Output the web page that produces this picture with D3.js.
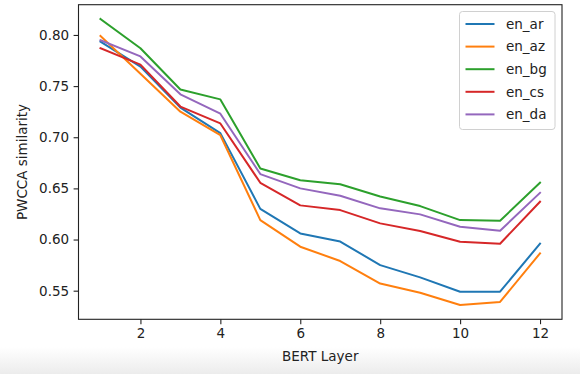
<!DOCTYPE html>
<html>
<head>
<meta charset="utf-8">
<script src="https://cdn.jsdelivr.net/npm/d3@7"></script>
<style>
  body { margin: 0; background: #fff; }
  svg { display: block; font-family: "DejaVu Sans", sans-serif; }
</style>
</head>
<body>
<div class="graph"></div>
<script>
// BERT layers 1..12
const layers = [1, 2, 3, 4, 5, 6, 7, 8, 9, 10, 11, 12];

const en_ar = [0.7935, 0.769, 0.729, 0.704, 0.630, 0.606, 0.598, 0.575, 0.563, 0.549, 0.549, 0.596];
const en_az = [0.799, 0.762, 0.725, 0.702, 0.619, 0.593, 0.579, 0.557, 0.548, 0.536, 0.539, 0.5865];
const en_bg = [0.8156, 0.787, 0.7467, 0.737, 0.6695, 0.658, 0.654, 0.642, 0.6327, 0.619, 0.6184, 0.6555];
const en_cs = [0.787, 0.771, 0.730, 0.7135, 0.6555, 0.6334, 0.6288, 0.6158, 0.6083, 0.5978, 0.5959, 0.637];
const en_da = [0.7948, 0.779, 0.742, 0.723, 0.664, 0.650, 0.6428, 0.6305, 0.6246, 0.6125, 0.6086, 0.6457];

const seriesNames = ["en_ar", "en_az", "en_bg", "en_cs", "en_da"];
const seriesValues = [en_ar, en_az, en_bg, en_cs, en_da];
const colors = ["#1f77b4", "#ff7f0e", "#2ca02c", "#d62728", "#9467bd"];

const xTicks = [2, 4, 6, 8, 10, 12];
const yTicks = [0.55, 0.60, 0.65, 0.70, 0.75, 0.80];

const width = 580, height = 374;
const plotLeft = 78.5, plotRight = 562, plotTop = 4.7, plotBottom = 319.3;

let svg = d3.select(".graph").append("svg")
  .attr("width", width)
  .attr("height", height);

// light grey strip at the bottom of the screenshot
let grad = svg.append("defs").append("linearGradient")
  .attr("id", "fade").attr("x1", 0).attr("x2", 0).attr("y1", 0).attr("y2", 1);
grad.append("stop").attr("offset", "0%").attr("stop-color", "#ffffff");
grad.append("stop").attr("offset", "100%").attr("stop-color", "#ececec");
svg.append("rect").attr("x", 0).attr("y", 347).attr("width", width).attr("height", 27)
  .attr("fill", "url(#fade)");

// matplotlib style: 5% margins on data range
let allVals = seriesValues.flat();
let ymin = d3.min(allVals), ymax = d3.max(allVals);
let ypad = (ymax - ymin) * 0.05;
let x = d3.scaleLinear().domain([0.45, 12.55]).range([plotLeft, plotRight]);
let y = d3.scaleLinear().domain([ymin - ypad, ymax + ypad]).range([plotBottom, plotTop]);

let xAxis = svg.append("g")
  .attr("transform", "translate(0," + plotBottom + ")")
  .call(d3.axisBottom(x).tickValues(xTicks).tickSize(4.9).tickPadding(4.5).tickFormat(d3.format("d")));

let yAxis = svg.append("g")
  .attr("transform", "translate(" + plotLeft + ",0)")
  .call(d3.axisLeft(y).tickValues(yTicks).tickSize(4.9).tickPadding(4.5).tickFormat(d3.format(".2f")));

[xAxis, yAxis].forEach(function(a){
  a.select(".domain").remove();
  a.selectAll(".tick line").attr("stroke", "#222").attr("stroke-width", 1.1);
  a.selectAll(".tick text").attr("fill", "#222").style("font-size", "13.5px").style("font-family", "DejaVu Sans");
});

// lines
let line = d3.line()
  .x(function(d, i){ return x(layers[i]); })
  .y(function(d){ return y(d); });

svg.selectAll(".series")
  .data(seriesValues)
  .enter().append("path")
  .attr("class", "series")
  .attr("d", line)
  .attr("fill", "none")
  .attr("stroke", function(d, i){ return colors[i]; })
  .attr("stroke-width", 2)
  .attr("stroke-linejoin", "round")
  .attr("stroke-linecap", "square");

// frame
svg.append("rect")
  .attr("x", plotLeft).attr("y", plotTop)
  .attr("width", plotRight - plotLeft).attr("height", plotBottom - plotTop)
  .attr("fill", "none").attr("stroke", "#222").attr("stroke-width", 1.1);

// axis labels
svg.append("text")
  .attr("x", (plotLeft + plotRight) / 2).attr("y", 361)
  .attr("text-anchor", "middle")
  .style("font-size", "13.5px").attr("fill", "#222")
  .text("BERT Layer");

svg.append("text")
  .attr("transform", "translate(27," + ((plotTop + plotBottom) / 2) + ") rotate(-90)")
  .attr("text-anchor", "middle")
  .style("font-size", "13.5px").attr("fill", "#222")
  .text("PWCCA similarity");

// legend
let legend = svg.append("g").attr("transform", "translate(459.5,11.5)");
legend.append("rect")
  .attr("width", 95.5).attr("height", 118)
  .attr("rx", 3)
  .attr("fill", "#fff").attr("fill-opacity", 0.8)
  .attr("stroke", "#d0d0d0").attr("stroke-width", 1);

let items = legend.selectAll(".item")
  .data(seriesNames)
  .enter().append("g")
  .attr("class", "item")
  .attr("transform", function(d, i){ return "translate(0," + (12.5 + i * 22.6) + ")"; });

items.append("line")
  .attr("x1", 6).attr("x2", 35)
  .attr("stroke", function(d, i){ return colors[i]; })
  .attr("stroke-width", 2);

items.append("text")
  .attr("x", 46.5).attr("dy", "0.35em")
  .style("font-size", "13.5px").attr("fill", "#222")
  .text(String);
</script>
</body>
</html>
